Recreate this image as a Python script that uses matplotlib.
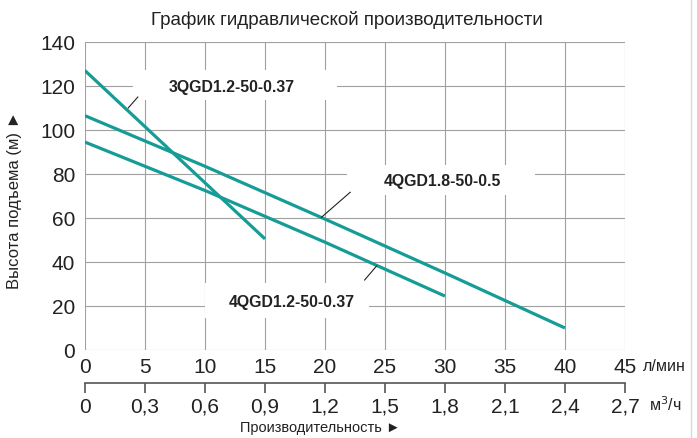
import matplotlib
matplotlib.use('Agg')
import matplotlib.pyplot as plt
from matplotlib.lines import Line2D
from matplotlib.patches import Rectangle

plt.rcParams['font.family'] = ['Liberation Sans', 'DejaVu Sans']

# flow (l/min) -> head (m)
q_3qgd12 = [0, 15]
h_3qgd12 = [127, 50.5]

q_4qgd18 = [0, 10, 20, 30, 40]
h_4qgd18 = [106.5, 83.5, 59.5, 35, 10]

q_4qgd12 = [0, 10, 20, 30]
h_4qgd12 = [94.5, 72.5, 49, 24.5]

x_ticks = [0, 5, 10, 15, 20, 25, 30, 35, 40, 45]
y_ticks = [0, 20, 40, 60, 80, 100, 120, 140]
m3h_labels = ['0', '0,3', '0,6', '0,9', '1,2', '1,5', '1,8', '2,1', '2,4', '2,7']

title = 'График гидравлической производительности'
x_label = 'Производительность ►'
y_label = 'Высота подъема (м) ►'

teal = '#169c97'
grid_c = '#a0a0a0'
txt_c = '#222222'

W, H = 697, 438
fig = plt.figure(figsize=(W / 100, H / 100), dpi=100)
L, R, B, T = 85, 625, 350, 42
ax = fig.add_axes([L / W, 1 - B / H, (R - L) / W, (B - T) / H])

ax.set_xlim(0, 45)
ax.set_ylim(0, 140)
ax.set_xticks(x_ticks)
ax.set_yticks(y_ticks)
ax.grid(True, color=grid_c, lw=0.8)
ax.set_axisbelow(True)
for s in ax.spines.values():
    s.set_visible(False)
ax.tick_params(length=0, labelsize=15, labelcolor=txt_c)
ax.tick_params(axis='x', pad=6)
ax.tick_params(axis='y', pad=7)

ax.plot(q_3qgd12, h_3qgd12, color=teal, lw=2.3, solid_capstyle='butt', zorder=3)
ax.plot(q_4qgd18, h_4qgd18, color=teal, lw=2.3, solid_capstyle='butt', zorder=3)
ax.plot(q_4qgd12, h_4qgd12, color=teal, lw=2.3, solid_capstyle='butt', zorder=3)

# white boxes hiding the grid behind the curve labels
for x0, x1, y0, y1 in [(4.0, 21.0, 113.6, 127.3),
                       (21.8, 37.5, 70.5, 84.1),
                       (10.0, 23.7, 14.5, 30.5)]:
    ax.add_patch(Rectangle((x0, y0), x1 - x0, y1 - y0, facecolor='white',
                           edgecolor='none', zorder=2))

ax.text(12.25, 119.5, '3QGD1.2-50-0.37', fontsize=11.4, fontweight='bold',
        color=txt_c, ha='center', va='center', zorder=4)
ax.text(29.8, 76.4, '4QGD1.8-50-0.5', fontsize=11.4, fontweight='bold',
        color=txt_c, ha='center', va='center', zorder=4)
ax.text(17.2, 21.8, '4QGD1.2-50-0.37', fontsize=11.4, fontweight='bold',
        color=txt_c, ha='center', va='center', zorder=4)

# leader lines
ax.plot([3.6, 4.4], [110, 115], color=txt_c, lw=0.8, zorder=4)
ax.plot([19.7, 22.1], [60.3, 71.7], color=txt_c, lw=0.8, zorder=4)
ax.plot([23.3, 24.3], [31.8, 38.2], color=txt_c, lw=0.8, zorder=4)

ax.text(46.5, -7.7, 'л/мин', fontsize=11.5, color=txt_c, va='center', ha='left',
        clip_on=False)

# second flow axis in m3/h
sec = ax.secondary_xaxis(-0.107)
sec.set_xticks(x_ticks)
sec.set_xticklabels(m3h_labels)
sec.spines['bottom'].set_color('#555555')
sec.spines['bottom'].set_linewidth(1.2)
sec.tick_params(direction='out', length=7.5, width=1.2, color='#555555',
                labelsize=15, labelcolor=txt_c, pad=3)
ax.text(47, -25, 'м$^3$/ч', fontsize=11.5, color=txt_c, va='center', ha='left',
        clip_on=False)

fig.text(347 / W, 1 - 20 / H, title, fontsize=13.5, color=txt_c, ha='center', va='center')
fig.text(320 / W, 1 - 428 / H, x_label, fontsize=10.5, color=txt_c, ha='center', va='center')
fig.text(15 / W, 1 - 200 / H, y_label, fontsize=12, color=txt_c, ha='center', va='center',
         rotation=90)

fig.add_artist(Line2D([691 / W, 691 / W], [0, 1], color='#d8d8d8', lw=1))

fig.savefig('out.png', dpi=100)
